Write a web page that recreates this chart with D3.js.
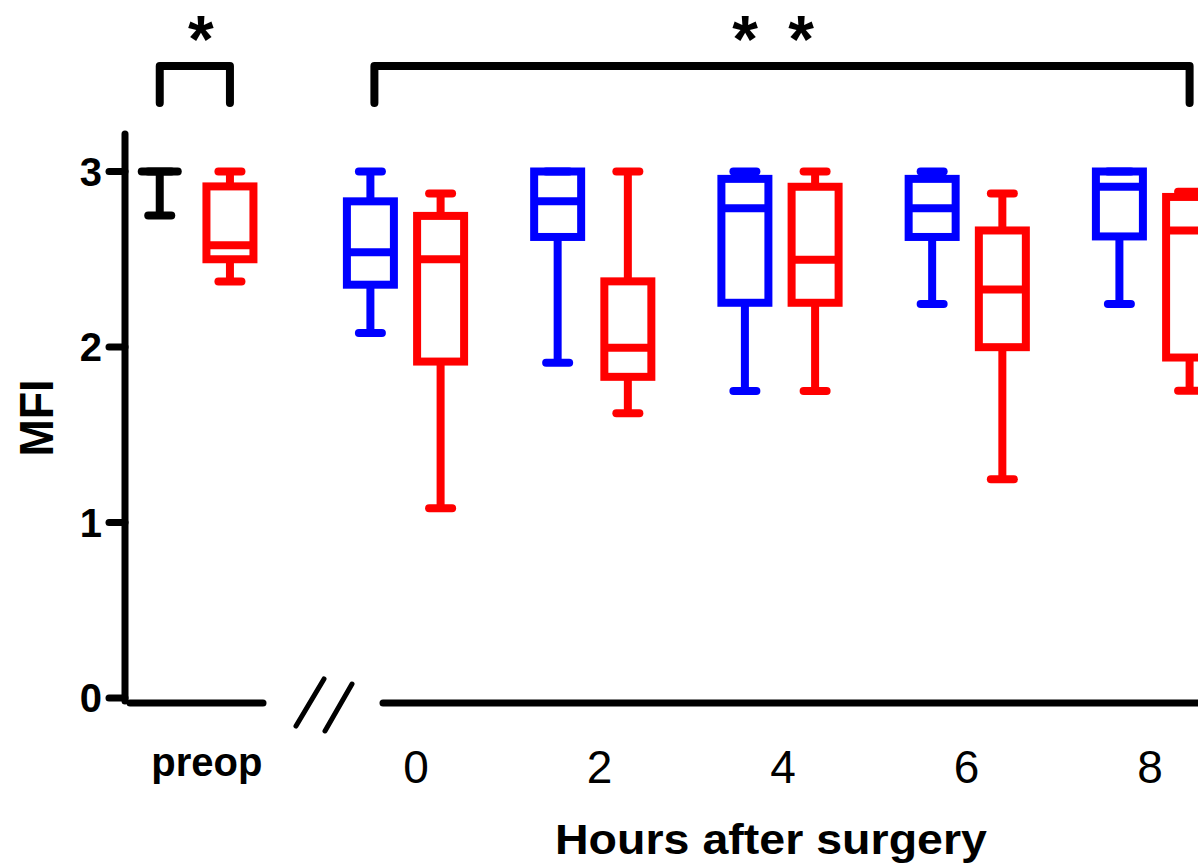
<!DOCTYPE html>
<html>
<head>
<meta charset="utf-8">
<script src="https://cdn.jsdelivr.net/npm/d3@7"></script>
<style>
  html, body { margin: 0; padding: 0; background: #fff; }
  svg { display: block; }
  text { font-family: "Liberation Sans", Arial, Helvetica, sans-serif; fill: #000; }
</style>
</head>
<body>
<svg id="chart" width="1198" height="866"></svg>
<script>
// Groups: preoperative baseline, then hours after surgery
const groups = ["preop", "0", "2", "4", "6", "8"];
const groupPos = [-2.25, 0, 2, 4, 6, 8];
const hourTicks = [0, 2, 4, 6, 8];
const yTicks = [0, 1, 2, 3];

// Control series (blue; baseline drawn in black)
const ctrlMin = [2.75, 2.08, 1.91, 1.75, 2.245, 2.245];
const ctrlQ1  = [3.00, 2.355, 2.627, 2.252, 2.627, 2.63];
const ctrlMed = [3.00, 2.54, 2.83, 2.79, 2.79, 2.913];
const ctrlQ3  = [3.00, 2.83, 3.00, 2.958, 2.958, 3.00];
const ctrlMax = [3.00, 3.00, 3.00, 3.00, 3.00, 3.00];

// Treatment series (red)
const trtMin = [2.373, 1.081, 1.623, 1.749, 1.246, 1.751];
const trtQ1  = [2.50, 1.917, 1.83, 2.252, 1.999, 1.94];
const trtMed = [2.58, 2.50, 1.996, 2.497, 2.328, 2.664];
const trtQ3  = [2.915, 2.747, 2.374, 2.913, 2.664, 2.855];
const trtMax = [3.00, 2.874, 3.00, 3.00, 2.875, 2.885];

const svg = d3.select("#chart");

const y = d3.scaleLinear().domain([0, 3]).range([698, 171.5]);
const x = d3.scaleLinear().domain([0, 8]).range([405.5, 1154.5]);
// tick labels sit on their own slightly narrower spacing
const xLabel = d3.scaleLinear().domain([0, 8]).range([416, 1150]);

const SW = 8;         // stroke width
const boxW = 47;      // box width (stroke centre to centre)
const capW = 23;      // whisker cap length
const offset = 35.1;  // half distance between paired boxes

function boxSeries(mins, q1s, meds, q3s, maxs, side, colorFn) {
  const g = svg.append("g");
  groups.forEach((grp, i) => {
    const cx = x(groupPos[i]) + side * offset;
    const col = colorFn(i);
    const gg = g.append("g")
      .attr("stroke", col).attr("stroke-width", SW).attr("fill", "none");
    // whiskers
    gg.append("line").attr("x1", cx).attr("x2", cx)
      .attr("y1", y(q3s[i])).attr("y2", y(maxs[i]));
    gg.append("line").attr("x1", cx).attr("x2", cx)
      .attr("y1", y(q1s[i])).attr("y2", y(mins[i]));
    // caps
    [mins[i], maxs[i]].forEach(v => {
      gg.append("line").attr("stroke-linecap", "round")
        .attr("x1", cx - capW / 2).attr("x2", cx + capW / 2)
        .attr("y1", y(v)).attr("y2", y(v));
    });
    if (q3s[i] - q1s[i] < 1e-6) {
      // collapsed box: a single bar
      gg.append("line").attr("stroke-linecap", "round")
        .attr("x1", cx - 18).attr("x2", cx + 18)
        .attr("y1", y(q1s[i])).attr("y2", y(q1s[i]));
    } else {
      gg.append("rect")
        .attr("x", cx - boxW / 2).attr("width", boxW)
        .attr("y", y(q3s[i])).attr("height", y(q1s[i]) - y(q3s[i]));
      gg.append("line")
        .attr("x1", cx - boxW / 2).attr("x2", cx + boxW / 2)
        .attr("y1", y(meds[i])).attr("y2", y(meds[i]));
    }
  });
}

boxSeries(ctrlMin, ctrlQ1, ctrlMed, ctrlQ3, ctrlMax, -1, i => i === 0 ? "#000000" : "#0000ff");
boxSeries(trtMin, trtQ1, trtMed, trtQ3, trtMax, 1, () => "#ff0000");

// Y axis
const yAxis = svg.append("g");
yAxis.append("line")
  .attr("x1", 125).attr("x2", 125).attr("y1", 134).attr("y2", y(0) + 3)
  .attr("stroke", "#000").attr("stroke-width", 7).attr("stroke-linecap", "round");
yTicks.forEach(t => {
  yAxis.append("line")
    .attr("x1", 109).attr("x2", 125).attr("y1", y(t)).attr("y2", y(t))
    .attr("stroke", "#000").attr("stroke-width", 7).attr("stroke-linecap", "round");
  yAxis.append("text")
    .attr("x", 102).attr("y", y(t)).attr("dy", "0.36em")
    .attr("text-anchor", "end").attr("font-size", 40).attr("font-weight", "bold")
    .text(t);
});

// X axis, broken between baseline and post-operative hours
const xa = svg.append("g").attr("stroke", "#000").attr("stroke-width", 7).attr("stroke-linecap", "round");
const axisY = 703;
xa.append("line").attr("x1", 130).attr("x2", 263).attr("y1", axisY).attr("y2", axisY);
xa.append("line").attr("x1", 383).attr("x2", 1210).attr("y1", axisY).attr("y2", axisY);
xa.append("line").attr("x1", 296).attr("x2", 324).attr("y1", 726).attr("y2", 679).attr("stroke-width", 5);
xa.append("line").attr("x1", 325).attr("x2", 352).attr("y1", 731).attr("y2", 684).attr("stroke-width", 5);

svg.append("text")
  .attr("x", x(groupPos[0]) + 12).attr("y", 776)
  .attr("text-anchor", "middle").attr("font-size", 40).attr("font-weight", "bold")
  .text(groups[0]);

hourTicks.forEach(h => {
  svg.append("text")
    .attr("x", xLabel(h)).attr("y", 783)
    .attr("text-anchor", "middle").attr("font-size", 46)
    .text(h);
});

// Axis titles
svg.append("text")
  .attr("x", 771).attr("y", 854)
  .attr("text-anchor", "middle").attr("font-size", 43).attr("font-weight", "bold")
  .attr("textLength", 432).attr("lengthAdjust", "spacingAndGlyphs")
  .text("Hours after surgery");

svg.append("text")
  .attr("transform", "translate(53,418) rotate(-90)")
  .attr("text-anchor", "middle").attr("font-size", 48).attr("font-weight", "bold")
  .attr("textLength", 77).attr("lengthAdjust", "spacingAndGlyphs")
  .text("MFI");

// Significance brackets
const br = svg.append("g").attr("stroke", "#000").attr("stroke-width", 8)
  .attr("fill", "none").attr("stroke-linecap", "round").attr("stroke-linejoin", "round");
const brTop = 66, brBot = 103;
const b1 = [x(groupPos[0]) - offset, x(groupPos[0]) + offset];
const b2 = [x(hourTicks[0]) - offset + 4, x(hourTicks[hourTicks.length - 1]) + offset];
[b1, b2].forEach(([a, b]) => {
  br.append("path").attr("d", `M${a},${brBot}V${brTop}H${b}V${brBot}`);
});
svg.append("text")
  .attr("x", (b1[0] + b1[1]) / 2 + 6).attr("y", 62)
  .attr("text-anchor", "middle").attr("font-size", 66).attr("font-weight", "bold")
  .text("*");
svg.append("text")
  .attr("x", 773).attr("y", 62)
  .attr("text-anchor", "middle").attr("font-size", 66).attr("font-weight", "bold")
  .attr("word-spacing", 12)
  .text("* *");
</script>
</body>
</html>
